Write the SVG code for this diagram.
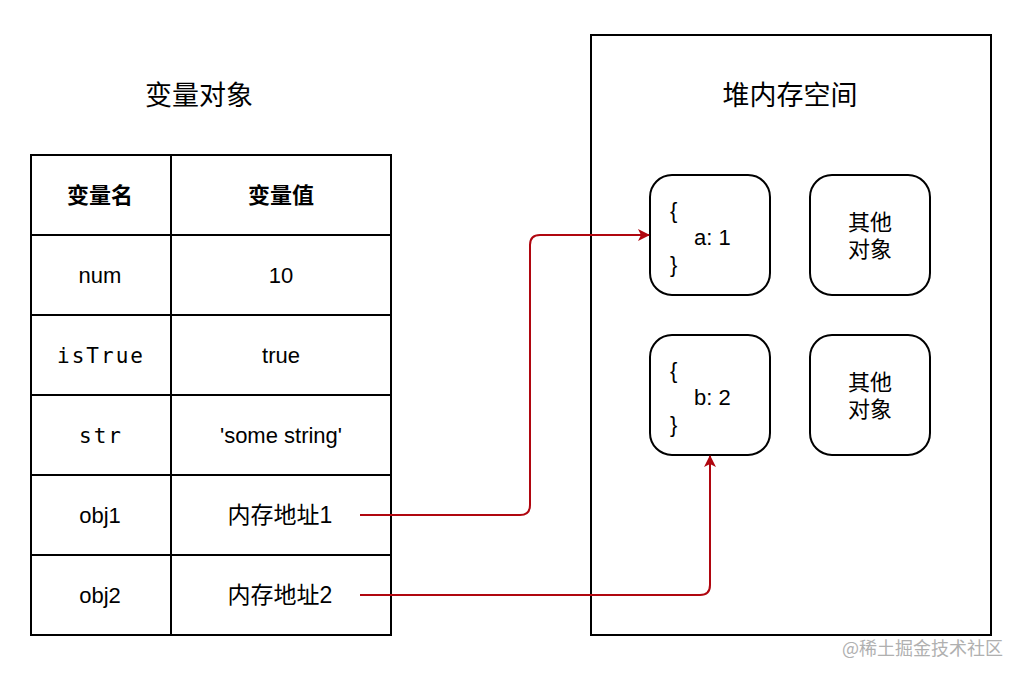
<svg xmlns="http://www.w3.org/2000/svg" width="1024" height="680" viewBox="0 0 1024 680">
<style>
.t{font-family:"Liberation Sans","Noto Sans CJK SC",sans-serif;font-size:22px;fill:#000;text-anchor:middle}
.b{font-weight:bold}
.m{font-family:"DejaVu Sans Mono","Liberation Mono",monospace;font-size:21px;letter-spacing:2px}
.title{font-size:27px}
.ln{stroke:#000;stroke-width:2;fill:none}
.box{fill:#fff;stroke:#000;stroke-width:2}
.con{stroke:#b0060f;stroke-width:2;fill:none}
.l{text-anchor:start}
</style>
<defs>
<marker id="ah" markerWidth="12" markerHeight="12" refX="11" refY="6" orient="auto" markerUnits="userSpaceOnUse">
<path d="M0,0 L12,6 L0,12 L3,6 Z" fill="#b0060f"/>
</marker>
</defs>
<rect width="1024" height="680" fill="#fff"/>
<g id="title-vars"><text class="t title" x="199" y="105">变量对象</text></g>
<g id="table">
<rect class="ln" x="31" y="155" width="360" height="480"/>
<line class="ln" x1="171" y1="155" x2="171" y2="635"/>
<line class="ln" x1="31" y1="235" x2="391" y2="235"/>
<line class="ln" x1="31" y1="315" x2="391" y2="315"/>
<line class="ln" x1="31" y1="395" x2="391" y2="395"/>
<line class="ln" x1="31" y1="475" x2="391" y2="475"/>
<line class="ln" x1="31" y1="555" x2="391" y2="555"/>
<text class="t b" x="100" y="203">变量名</text>
<text class="t b" x="281" y="203">变量值</text>
<text class="t" x="100" y="283">num</text>
<text class="t" x="281" y="283">10</text>
<text class="t m" x="101" y="363">isTrue</text>
<text class="t m" x="101" y="443">str</text>
<text class="t" x="281" y="363">true</text>
<text class="t" x="281" y="443">'some string'</text>
<text class="t" x="100" y="523">obj1</text>
<text class="t" x="280" y="523" style="font-size:23px">内存地址1</text>
<text class="t" x="100" y="603">obj2</text>
<text class="t" x="280" y="603" style="font-size:23px">内存地址2</text>
</g>
<g id="heap">
<rect class="box" x="591" y="35" width="400" height="600"/>
<text class="t title" x="790" y="105">堆内存空间</text>
</g>
<g id="obj-a">
<rect class="box" x="650" y="175" width="120" height="120" rx="22"/>
<text class="t l" x="670" y="218">{</text>
<text class="t l" x="694" y="245">a: 1</text>
<text class="t l" x="670" y="272">}</text>
</g>
<g id="other-1">
<rect class="box" x="810" y="175" width="120" height="120" rx="22"/>
<text class="t" x="870" y="230">其他</text>
<text class="t" x="870" y="257">对象</text>
</g>
<g id="obj-b">
<rect class="box" x="650" y="335" width="120" height="120" rx="22"/>
<text class="t l" x="670" y="378">{</text>
<text class="t l" x="694" y="405">b: 2</text>
<text class="t l" x="670" y="432">}</text>
</g>
<g id="other-2">
<rect class="box" x="810" y="335" width="120" height="120" rx="22"/>
<text class="t" x="870" y="390">其他</text>
<text class="t" x="870" y="417">对象</text>
</g>
<g id="connectors">
<path class="con" d="M360,515 H520 Q530,515 530,505 V245 Q530,235 540,235 H649" marker-end="url(#ah)"/>
<path class="con" d="M360,595 H700 Q710,595 710,585 V456" marker-end="url(#ah)"/>
</g>
<g id="watermark"><text x="1003" y="655" style="font-family:'Noto Sans CJK SC',sans-serif;font-size:18px;fill:#b0b0b0;text-anchor:end">@稀土掘金技术社区</text></g>
</svg>
